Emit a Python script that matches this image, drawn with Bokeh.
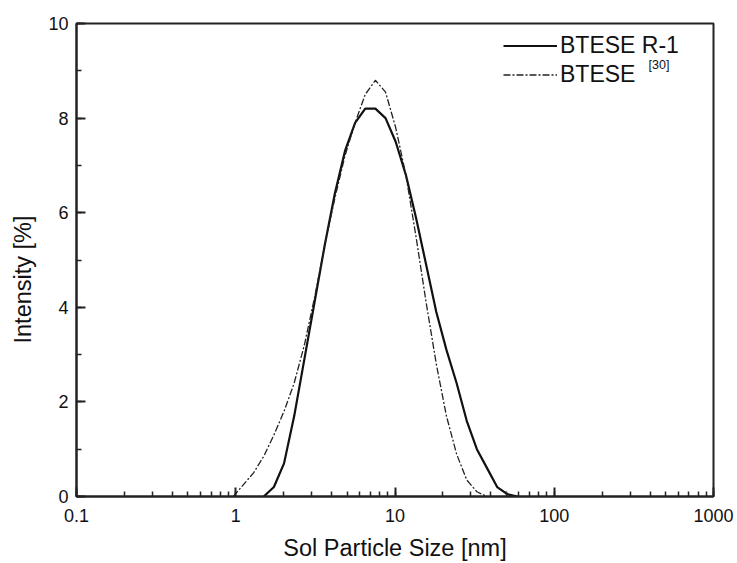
import math
from bokeh.plotting import figure
from bokeh.models import (Legend, LegendItem, Label, LogTicker, SingleIntervalTicker,
                          ColumnDataSource, CustomJSTickFormatter)
from bokeh.embed import file_html
from bokeh.resources import INLINE

# Particle-size bins (nm) and intensities (%)
size_r1 = [1.499, 1.736, 2.010, 2.328, 2.696, 3.122, 3.615, 4.187, 4.849, 5.615,
           6.503, 7.531, 8.721, 10.10, 11.70, 13.54, 15.69, 18.17, 21.04, 24.36,
           28.21, 32.67, 37.84, 43.82, 50.75, 58.77]
int_r1 = [0.0, 0.2, 0.7, 1.7, 2.9, 4.1, 5.3, 6.4, 7.3, 7.9,
          8.2, 8.2, 8.0, 7.5, 6.8, 5.9, 4.9, 3.9, 3.1, 2.4,
          1.6, 1.0, 0.6, 0.2, 0.05, 0.0]

size_ref = [0.9649, 1.117, 1.294, 1.499, 1.736, 2.010, 2.328, 2.696, 3.122, 3.615,
            4.187, 4.849, 5.615, 6.503, 7.531, 8.721, 10.10, 11.70, 13.54, 15.69,
            18.17, 21.04, 24.36, 28.21, 32.67, 37.84]
int_ref = [0.0, 0.25, 0.5, 0.85, 1.3, 1.8, 2.4, 3.2, 4.2, 5.3,
           6.3, 7.2, 7.9, 8.5, 8.8, 8.55, 7.8, 6.8, 5.5, 4.1,
           2.8, 1.7, 0.9, 0.35, 0.1, 0.0]

label_r1 = "BTESE R-1"
label_ref = "BTESE "
label_ref_sup = "[30]"
x_title = "Sol Particle Size [nm]"
y_title = "Intensity [%]"

FONT = "Liberation Sans"

p = figure(width=737, height=563, x_axis_type="log",
           x_range=(0.1, 1000), y_range=(0, 10),
           output_backend="svg", toolbar_location=None,
           min_border_left=76, min_border_right=24,
           min_border_top=23, min_border_bottom=66)
p.grid.visible = False
p.background_fill_color = "white"
p.border_fill_color = "white"
p.outline_line_color = "#222222"
p.outline_line_width = 2

src1 = ColumnDataSource(dict(x=size_r1, y=int_r1))
src2 = ColumnDataSource(dict(x=size_ref, y=int_ref))
r1 = p.line("x", "y", source=src1, line_color="#111111", line_width=2.2)
r2 = p.line("x", "y", source=src2, line_color="#222222", line_width=1.3,
            line_dash="7 2 2 2")

p.xaxis.ticker = LogTicker(num_minor_ticks=10)
p.xaxis.formatter = CustomJSTickFormatter(code="return String(Number(tick.toPrecision(6)));")
p.yaxis.ticker = SingleIntervalTicker(interval=2, num_minor_ticks=2)

for ax in (p.xaxis[0], p.yaxis[0]):
    ax.axis_line_color = "#222222"
    ax.axis_line_width = 2
    ax.major_tick_in = 9
    ax.major_tick_out = 0
    ax.minor_tick_in = 5
    ax.minor_tick_out = 0
    ax.major_tick_line_width = 2
    ax.minor_tick_line_width = 1.5
    ax.major_tick_line_color = "#222222"
    ax.minor_tick_line_color = "#222222"
    ax.major_label_text_font = FONT
    ax.major_label_text_font_size = "18px"
    ax.major_label_text_color = "#111111"
    ax.axis_label_text_font = FONT
    ax.axis_label_text_font_size = "23.5px"
    ax.axis_label_text_font_style = "normal"
    ax.axis_label_text_color = "#111111"

p.xaxis.axis_label = x_title
p.xaxis.major_label_standoff = 12
p.yaxis.major_label_standoff = 8
p.xaxis.axis_label_standoff = 10

# y-axis title, placed a little below the frame centre as in the source figure
ytitle = Label(x=3, y=217, x_units="screen", y_units="screen",
               text=y_title, angle=math.pi / 2, text_align="center",
               text_baseline="middle", text_font=FONT, text_font_size="23.5px",
               text_color="#111111")
p.add_layout(ytitle, "left")

legend = Legend(items=[LegendItem(label=label_r1, renderers=[r1]),
                       LegendItem(label=label_ref, renderers=[r2])],
                location=(427, 407), orientation="vertical",
                background_fill_alpha=0, border_line_alpha=0,
                padding=0, margin=0, spacing=0,
                glyph_width=54, glyph_height=29, label_height=29,
                label_standoff=3,
                label_text_font=FONT, label_text_font_size="23px",
                label_text_color="#111111")
p.add_layout(legend, "center")

sup = Label(x=572, y=425, x_units="screen", y_units="screen",
            text=label_ref_sup, text_font=FONT, text_font_size="12.5px",
            text_color="#111111")
p.add_layout(sup)

open("out.html", "w").write(file_html(p, INLINE))
